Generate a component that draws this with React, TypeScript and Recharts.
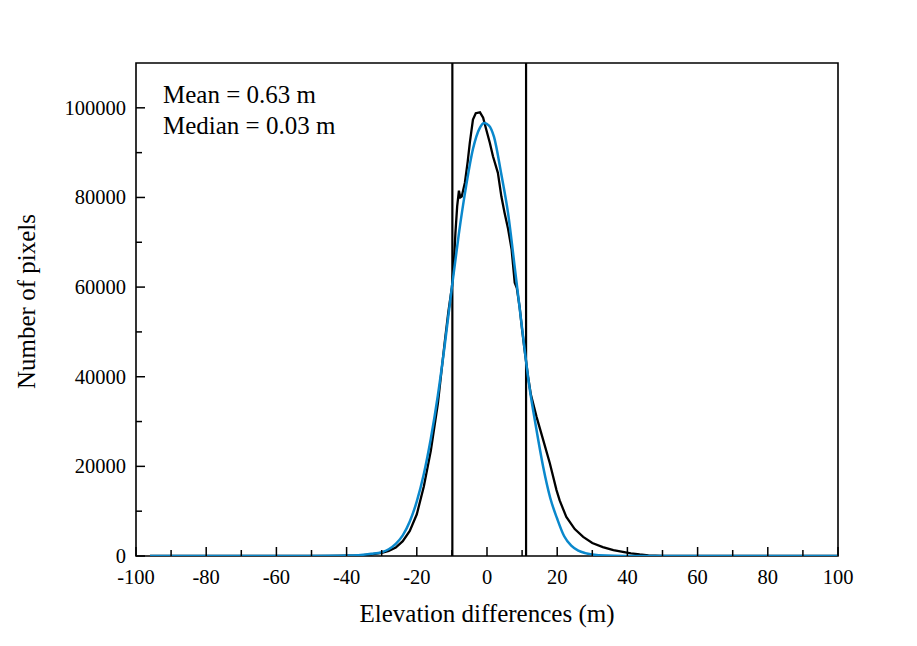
import { LineChart, Line, XAxis, YAxis, ReferenceLine, ReferenceArea, Label } from 'recharts';

// histogram of elevation differences (black)
const histX = [-96, -45, -40, -36, -33, -30, -28, -26, -24, -22, -20, -18, -16, -14, -13, -12, -11, -10, -9.5, -9, -8.5, -8, -7.6, -7.2, -6.3, -5.5, -4.9, -4, -3.2, -2, -1.1, -0.2, 0.8, 1.7, 3.1, 4.1, 5, 6, 7, 7.9, 8.5, 9.3, 10, 10.7, 11.7, 12.5, 14.1, 16, 17.9, 19.8, 20.7, 22.6, 25, 27.4, 30, 33, 36, 38.7, 41, 43.5, 46, 50, 60, 100];
const histCount = [0, 0, 60, 150, 350, 700, 1150, 1900, 3300, 5600, 9300, 15500, 23500, 34000, 41000, 48000, 54500, 60000, 64500, 72000, 78000, 81500, 80000, 80200, 83300, 88000, 92200, 97400, 98800, 99000, 97800, 95100, 92200, 89200, 85500, 80200, 76600, 73000, 68500, 61000, 59800, 55500, 50500, 46000, 40000, 36000, 31100, 25900, 20700, 14700, 12400, 8700, 6000, 4250, 2900, 2000, 1300, 900, 600, 350, 150, 50, 0, 0];

// fitted normal curve (blue)
const fitX = [-96, -50, -44, -40, -36, -33, -30, -28, -26, -24, -22, -20, -18, -16, -14, -12, -10, -8, -6, -4, -2, -0.8, 0.5, 2, 4, 6, 8, 10, 12, 14, 16, 18, 20, 22, 24, 26, 28, 30, 34, 40, 45, 100];
const fitCount = [0, 0, 30, 90, 230, 480, 850, 1500, 2700, 4600, 7700, 12200, 18300, 26200, 35800, 47300, 60000, 72000, 82300, 90800, 95600, 96600, 96100, 93500, 85500, 76500, 63800, 50800, 38200, 28600, 19900, 13000, 8300, 4400, 2300, 1200, 650, 350, 100, 20, 0, 0];

// mean +/- one standard deviation
const bounds = [-9.87, 11.13];

const xTicks = [-100, -90, -80, -70, -60, -50, -40, -30, -20, -10, 0, 10, 20, 30, 40, 50, 60, 70, 80, 90, 100];
const yTicks = [0, 10000, 20000, 30000, 40000, 50000, 60000, 70000, 80000, 90000, 100000];
const stats = ['Mean = 0.63 m', 'Median = 0.03 m'];

const histData = histX.map((x, i) => ({ x, y: histCount[i] }));
const fitData = fitX.map((x, i) => ({ x, y: fitCount[i] }));

const XTick = (props: any) => {
  const { x, y, payload } = props;
  const major = payload.value % 20 === 0;
  return (
    <g>
      <line x1={x} y1={y} x2={x} y2={y - (major ? 9 : 6)} stroke="#000" strokeWidth={1.5} />
      {major && (
        <text x={x} y={y + 28} textAnchor="middle" fontSize={20.5} fill="#000">
          {payload.value}
        </text>
      )}
    </g>
  );
};

const YTick = (props: any) => {
  const { x, y, payload } = props;
  const major = payload.value % 20000 === 0;
  return (
    <g>
      <line x1={x} y1={y} x2={x + (major ? 9 : 6)} y2={y} stroke="#000" strokeWidth={1.5} />
      {major && (
        <text x={x - 10} y={y + 7} textAnchor="end" fontSize={20.5} fill="#000">
          {payload.value}
        </text>
      )}
    </g>
  );
};

export default function App() {
  return (
    <div style={{ position: 'absolute', left: 0, top: 0, background: '#fff', fontFamily: '"Liberation Serif", "Times New Roman", serif' }}>
      <LineChart width={917} height={646} margin={{ top: 63, right: 79, bottom: 0, left: 0 }}>
        <XAxis
          type="number"
          dataKey="x"
          domain={[-100, 100]}
          ticks={xTicks}
          interval={0}
          height={90}
          axisLine={false}
          tickLine={false}
          tickSize={0}
          tickMargin={0}
          tick={<XTick />}
          allowDataOverflow
        >
          <Label value="Elevation differences (m)" position="insideBottom" offset={24} fontSize={25} fill="#000" />
        </XAxis>
        <YAxis
          type="number"
          domain={[0, 110000]}
          ticks={yTicks}
          interval={0}
          width={136}
          axisLine={false}
          tickLine={false}
          tickSize={0}
          tickMargin={0}
          tick={<YTick />}
          allowDataOverflow
        >
          <Label
            content={({ viewBox }: any) => {
              const cx = viewBox.x + 26;
              const cy = viewBox.y + viewBox.height / 2 - 8;
              return (
                <text x={cx} y={cy} transform={`rotate(-90, ${cx}, ${cy})`} textAnchor="middle" dominantBaseline="central" fontSize={25} fill="#000">
                  Number of pixels
                </text>
              );
            }}
          />
        </YAxis>
        <ReferenceArea x1={-100} x2={100} y1={0} y2={110000} fill="none" stroke="#000" strokeWidth={1.6} fillOpacity={0}>
          <Label
            content={({ viewBox }: any) => (
              <g>
                {stats.map((s, i) => (
                  <text key={s} x={viewBox.x + 27} y={viewBox.y + 40 + i * 31} fontSize={25} fill="#000">
                    {s}
                  </text>
                ))}
              </g>
            )}
          />
        </ReferenceArea>
        {bounds.map((b) => (
          <ReferenceLine key={b} x={b} stroke="#000" strokeWidth={2.2} />
        ))}
        <Line data={histData} dataKey="y" type="linear" stroke="#000" strokeWidth={2.3} dot={false} isAnimationActive={false} />
        <Line data={fitData} dataKey="y" type="monotone" stroke="#0a88cc" strokeWidth={2.5} dot={false} isAnimationActive={false} />
      </LineChart>
    </div>
  );
}
